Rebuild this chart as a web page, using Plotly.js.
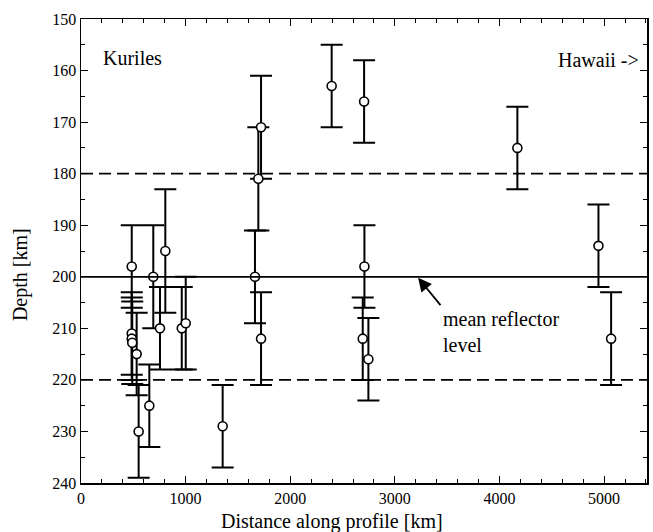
<!DOCTYPE html>
<html>
<head>
<meta charset="utf-8">
<script src="https://cdn.plot.ly/plotly-3.0.1.min.js"></script>
<style>html,body{margin:0;padding:0;background:#fff;}#chart{width:653px;height:532px;}</style>
</head>
<body>
<div id="chart"></div>
<script>
// Distance along profile [km]
var distance = [485, 485, 485, 490, 532, 551, 653, 691, 755, 806, 963, 1001, 1354, 1663, 1695, 1721, 1721, 2396, 2706, 2709, 2693, 2747, 4171, 4946, 5067];
// Reflector depth [km]
var depth = [198, 211, 212, 212.8, 215, 230, 225, 200, 210, 195, 210, 209, 229, 200, 181, 171, 212, 163, 166, 198, 212, 216, 175, 194, 212];
// Depth uncertainty [km]
var depthErr = [8, 8, 8, 8, 8, 9, 8, 10, 8, 12, 8, 9, 8, 9, 10, 10, 9, 8, 8, 8, 8, 8, 8, 8, 9];

var meanLevel = 200;
var boundLevels = [180, 220];

var xTicks = [0, 1000, 2000, 3000, 4000, 5000];
var yTicks = [150, 160, 170, 180, 190, 200, 210, 220, 230, 240];

var xTitle = 'Distance along profile [km]';
var yTitle = 'Depth [km]';

var FONT = '"Liberation Serif", "Times New Roman", Times, serif';

var trace = {
  x: distance, y: depth, type: 'scatter', mode: 'markers',
  marker: {symbol: 'circle', size: 9, color: '#ffffff', line: {color: '#000', width: 1.6}},
  error_y: {type: 'data', array: depthErr, visible: true, color: '#000', thickness: 2, width: 11},
  hoverinfo: 'x+y'
};

var shapes = [{type: 'line', xref: 'paper', x0: 0, x1: 1, yref: 'y', y0: meanLevel, y1: meanLevel,
  line: {color: '#000', width: 1.8}}];
boundLevels.forEach(function (v) {
  shapes.push({type: 'line', xref: 'paper', x0: 0, x1: 1, yref: 'y', y0: v, y1: v,
    line: {color: '#000', width: 1.8, dash: '12px,6px'}});
});

var layout = {
  width: 653, height: 532,
  margin: {l: 81, r: 6, t: 19, b: 49},
  paper_bgcolor: '#fff', plot_bgcolor: '#fff',
  showlegend: false,
  font: {family: FONT, size: 16, color: '#000'},
  xaxis: {
    range: [0, 5410], tickvals: xTicks, ticktext: xTicks.map(String),
    ticks: 'inside', ticklen: 7, tickwidth: 1, tickcolor: '#000',
    minor: {dtick: 200, ticks: 'inside', ticklen: 4, tickcolor: '#000'},
    showline: true, linecolor: '#000', linewidth: 1.5, mirror: 'ticks',
    showgrid: false, zeroline: false,
    tickfont: {family: FONT, size: 16},
    title: {text: ''}
  },
  yaxis: {
    range: [240, 150], tickvals: yTicks, ticktext: yTicks.map(String),
    ticks: 'inside', ticklen: 7, tickwidth: 1, tickcolor: '#000',
    minor: {dtick: 5, ticks: 'inside', ticklen: 4, tickcolor: '#000'},
    showline: true, linecolor: '#000', linewidth: 1.5, mirror: 'ticks',
    showgrid: false, zeroline: false,
    tickfont: {family: FONT, size: 16},
    title: {text: ''}
  },
  shapes: shapes,
  annotations: [
    {x: 0.4435, y: -0.082, xref: 'paper', yref: 'paper', text: xTitle, showarrow: false,
      xanchor: 'center', yanchor: 'middle', font: {family: FONT, size: 20}},
    {x: -0.108, y: 0.45, xref: 'paper', yref: 'paper', text: yTitle, showarrow: false, textangle: -90,
      xanchor: 'center', yanchor: 'middle', font: {family: FONT, size: 20}},
    {x: 191, y: 157.6, xref: 'x', yref: 'y', text: 'Kuriles', showarrow: false,
      xanchor: 'left', yanchor: 'middle', font: {family: FONT, size: 20}},
    {x: 5350, y: 158, xref: 'x', yref: 'y', text: 'Hawaii ->', showarrow: false,
      xanchor: 'right', yanchor: 'middle', font: {family: FONT, size: 20}},
    {x: 3222, y: 200.2, xref: 'x', yref: 'y', ax: 3448, ay: 205.8, axref: 'x', ayref: 'y',
      text: '', showarrow: true, arrowhead: 2, arrowsize: 1.5, arrowwidth: 1.8, arrowcolor: '#000'},
    {x: 3440, y: 210.8, xref: 'x', yref: 'y', text: 'mean reflector<br>level', showarrow: false,
      xanchor: 'left', yanchor: 'middle', align: 'left', font: {family: FONT, size: 20}}
  ]
};

Plotly.newPlot('chart', [trace], layout, {displayModeBar: false, staticPlot: true});
</script>
</body>
</html>
